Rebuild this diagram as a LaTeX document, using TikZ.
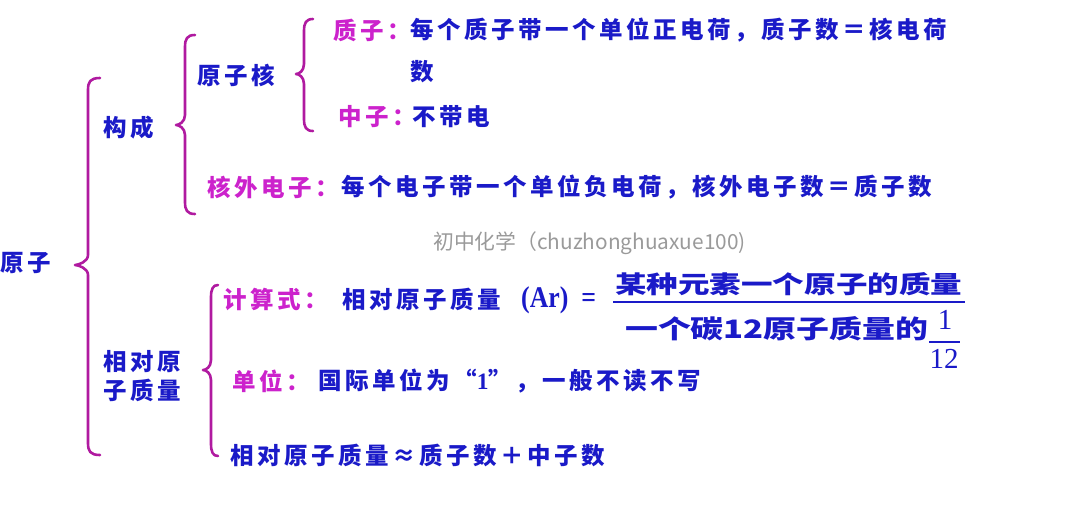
\documentclass[tikz,border=0pt]{standalone}
\usepackage{fontspec}
\setmainfont{Noto Sans CJK SC}
\newfontfamily\cj[LetterSpace=15]{Noto Sans CJK SC}
\newfontfamily\cjn{Noto Sans CJK SC}
\newfontfamily\serf{Liberation Serif}
\definecolor{tblue}{HTML}{1A1AC8}
\definecolor{tmag}{HTML}{CC22CC}
\definecolor{brc}{HTML}{B01AA0}
\definecolor{wgray}{HTML}{9A9A9A}
\newcommand\drawbrace[6]{%
  \draw[br] (#1,#4) .. controls ({#2+2},#4) and (#2,{#4+4}) .. (#2,{#4+12})
    -- (#2,{#5-10}) .. controls (#2,{#5-3}) and ({#3+3},#5) .. (#3,#5)
    .. controls ({#3+3},#5) and (#2,{#5+3}) .. (#2,{#5+10})
    -- (#2,{#6-12}) .. controls (#2,{#6-4}) and ({#2+2},#6) .. (#1,#6);}
\begin{document}
\begin{tikzpicture}[x=1pt,y=-1pt,
  blu/.style={text=tblue, anchor=west, inner sep=0pt, font={\cj\fontsize{23.5}{26}\selectfont\bfseries}},
  mag/.style={text=tmag, anchor=west, inner sep=0pt, font={\cj\fontsize{23.5}{26}\selectfont\bfseries}},
  lat/.style={text=tblue, anchor=west, inner sep=0pt, font={\serf\fontsize{30}{31}\selectfont\bfseries}},
  br/.style={draw=brc, line width=2.6pt, line cap=round, line join=round},
  fracline/.style={draw=tblue, line width=1.4pt},
  wm/.style={text=wgray, anchor=west, inner sep=0pt, font={\cjn\fontsize{20.8}{22}\selectfont}},
  fr/.style={text=tblue, inner sep=0pt, font={\cjn\fontsize{30}{32}\selectfont\bfseries}},
  dig/.style={text=tblue, inner sep=0pt, font={\serf\fontsize{29}{30}\selectfont}}]
\useasboundingbox (0,0) rectangle (1080,512);
\fill[white] (0,0) rectangle (1080,512);

% braces
\drawbrace{100}{88}{75}{78}{265}{455}
\drawbrace{195}{185}{176}{35}{125}{214}
\drawbrace{313}{304}{296}{19}{74}{131}
\drawbrace{218}{211}{203}{285}{370}{456}

% level 1
\node[blu] (yz) at (0,263) {原子};
% level 2
\node[blu] (gc) at (103,128) {构成};
\node[blu] (xd1) at (103,362) {相对原};
\node[blu] (xd2) at (103,390) {子质量};
% composition
\node[blu] (yzh) at (197,75) {原子核};
\node[mag] (zz) at (333,30) {质子：};
\node[blu] (zzt) at (410,30) {每个质子带一个单位正电荷，质子数＝核电荷};
\node[blu] (zzt2) at (410,72) {数};
\node[mag] (zhz) at (338,117) {中子：};
\node[blu] (zhzt) at (412,117) {不带电};
\node[mag] (hw) at (207,187) {核外电子：};
\node[blu] (hwt) at (341,187) {每个电子带一个单位负电荷，核外电子数＝质子数};

% watermark
\node[wm] (wmk) at (433,243) {初中化学（chuzhonghuaxue100)};

% relative atomic mass
\node[mag] (js) at (223,299) {计算式：};
\node[blu] (jst) at (342,299) {相对原子质量};
\node[lat] (ar) at (521,300) {\scalebox{0.86}[1]{(Ar)\hspace{15pt}=}};
\node[fr, anchor=west] (num) at (615,284) {\resizebox{347pt}{21pt}{某种元素一个原子的质量}};
\draw[fracline] (613,302) -- (965,302);
\node[fr, anchor=west] (den) at (625,329) {\resizebox{303pt}{22pt}{一个碳12原子质量的}};
\node[dig] (one) at (945,320) {1};
\draw[fracline] (929,342) -- (960,342);
\node[dig] (twelve) at (944,359) {12};
\node[mag] (dw) at (232,381) {单位：};
\node[blu] (dwt) at (318,381) {国际单位为“{\serf\bfseries 1}”，一般不读不写};
\node[blu] (appr) at (230,455) {相对原子质量≈质子数＋中子数};
\end{tikzpicture}
\end{document}
